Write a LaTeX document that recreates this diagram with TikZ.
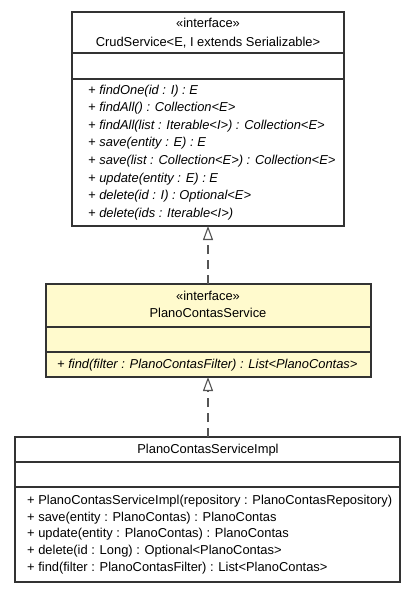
\documentclass[tikz,border=0pt]{standalone}
\usepackage{fontspec}
\setmainfont{Liberation Sans}
\usetikzlibrary{arrows.meta}
\definecolor{ifill}{RGB}{255,250,205}
\definecolor{lcol}{RGB}{51,51,51}
\definecolor{dcol}{RGB}{85,85,85}
\begin{document}
\begin{tikzpicture}[x=1pt,y=-1pt,
  umlbox/.style={draw=lcol,line width=1.1pt,inner sep=0pt,outer sep=0pt,anchor=north west,fill=white},
  ibox/.style={umlbox,fill=ifill},
  sep/.style={draw=lcol,line width=1.1pt},
  ttl/.style={inner sep=0pt,font=\fontsize{12.9}{15}\selectfont,anchor=base},
  mth/.style={inner sep=0pt,font=\fontsize{12.9}{15}\selectfont,anchor=base west},
  imth/.style={mth,font=\fontsize{12.9}{15}\selectfont\itshape},
  realize/.style={draw=dcol,line width=1.6pt,dash pattern=on 9pt off 6pt,
    -{Triangle[open,width=10pt,length=14pt,line width=1.1pt,fill=white]}}
]
\useasboundingbox (0,0) rectangle (416,592);
% Box 1
\node[umlbox,minimum width=272pt,minimum height=214pt] (b1) at (72,12) {};
\draw[sep] (72,53) -- (344,53);
\draw[sep] (72,79) -- (344,79);
\node[ttl] (b1s) at (208,27) {«interface»};
\node[ttl] (b1n) at (208,46) {CrudService<E, I extends Serializable>};
\node[imth] (m11) at (88,94) {+ findOne(id : I) : E};
\node[imth] (m12) at (88,111.6) {+ findAll() : Collection<E>};
\node[imth] (m13) at (88,129.2) {+ findAll(list : Iterable<I>) : Collection<E>};
\node[imth] (m14) at (88,146.8) {+ save(entity : E) : E};
\node[imth] (m15) at (88,164.4) {+ save(list : Collection<E>) : Collection<E>};
\node[imth] (m16) at (88,182) {+ update(entity : E) : E};
\node[imth] (m17) at (88,199.6) {+ delete(id : I) : Optional<E>};
\node[imth] (m18) at (88,217.2) {+ delete(ids : Iterable<I>)};
% Box 2
\node[ibox,minimum width=325pt,minimum height=93pt] (b2) at (46,284) {};
\draw[sep] (46,327) -- (371,327);
\draw[sep] (46,352) -- (371,352);
\node[ttl] (b2s) at (208,300) {«interface»};
\node[ttl] (b2n) at (208,317) {PlanoContasService};
\node[imth] (m21) at (57,368) {+ find(filter : PlanoContasFilter) : List<PlanoContas>};
% Box 3
\node[umlbox,minimum width=385pt,minimum height=145pt] (b3) at (15,437) {};
\draw[sep] (15,462) -- (400,462);
\draw[sep] (15,487) -- (400,487);
\node[ttl] (b3n) at (208,453) {PlanoContasServiceImpl};
\node[mth] (m31) at (27,504) {+ PlanoContasServiceImpl(repository : PlanoContasRepository)};
\node[mth] (m32) at (27,521) {+ save(entity : PlanoContas) : PlanoContas};
\node[mth] (m33) at (27,537.5) {+ update(entity : PlanoContas) : PlanoContas};
\node[mth] (m34) at (27,554) {+ delete(id : Long) : Optional<PlanoContas>};
\node[mth] (m35) at (27,571) {+ find(filter : PlanoContasFilter) : List<PlanoContas>};
% Connectors
\draw[realize] (b2.north -| b1.south) -- (b1.south);
\draw[realize] (b3.north -| b1.south) -- (b2.south -| b1.south);
\end{tikzpicture}
\end{document}
